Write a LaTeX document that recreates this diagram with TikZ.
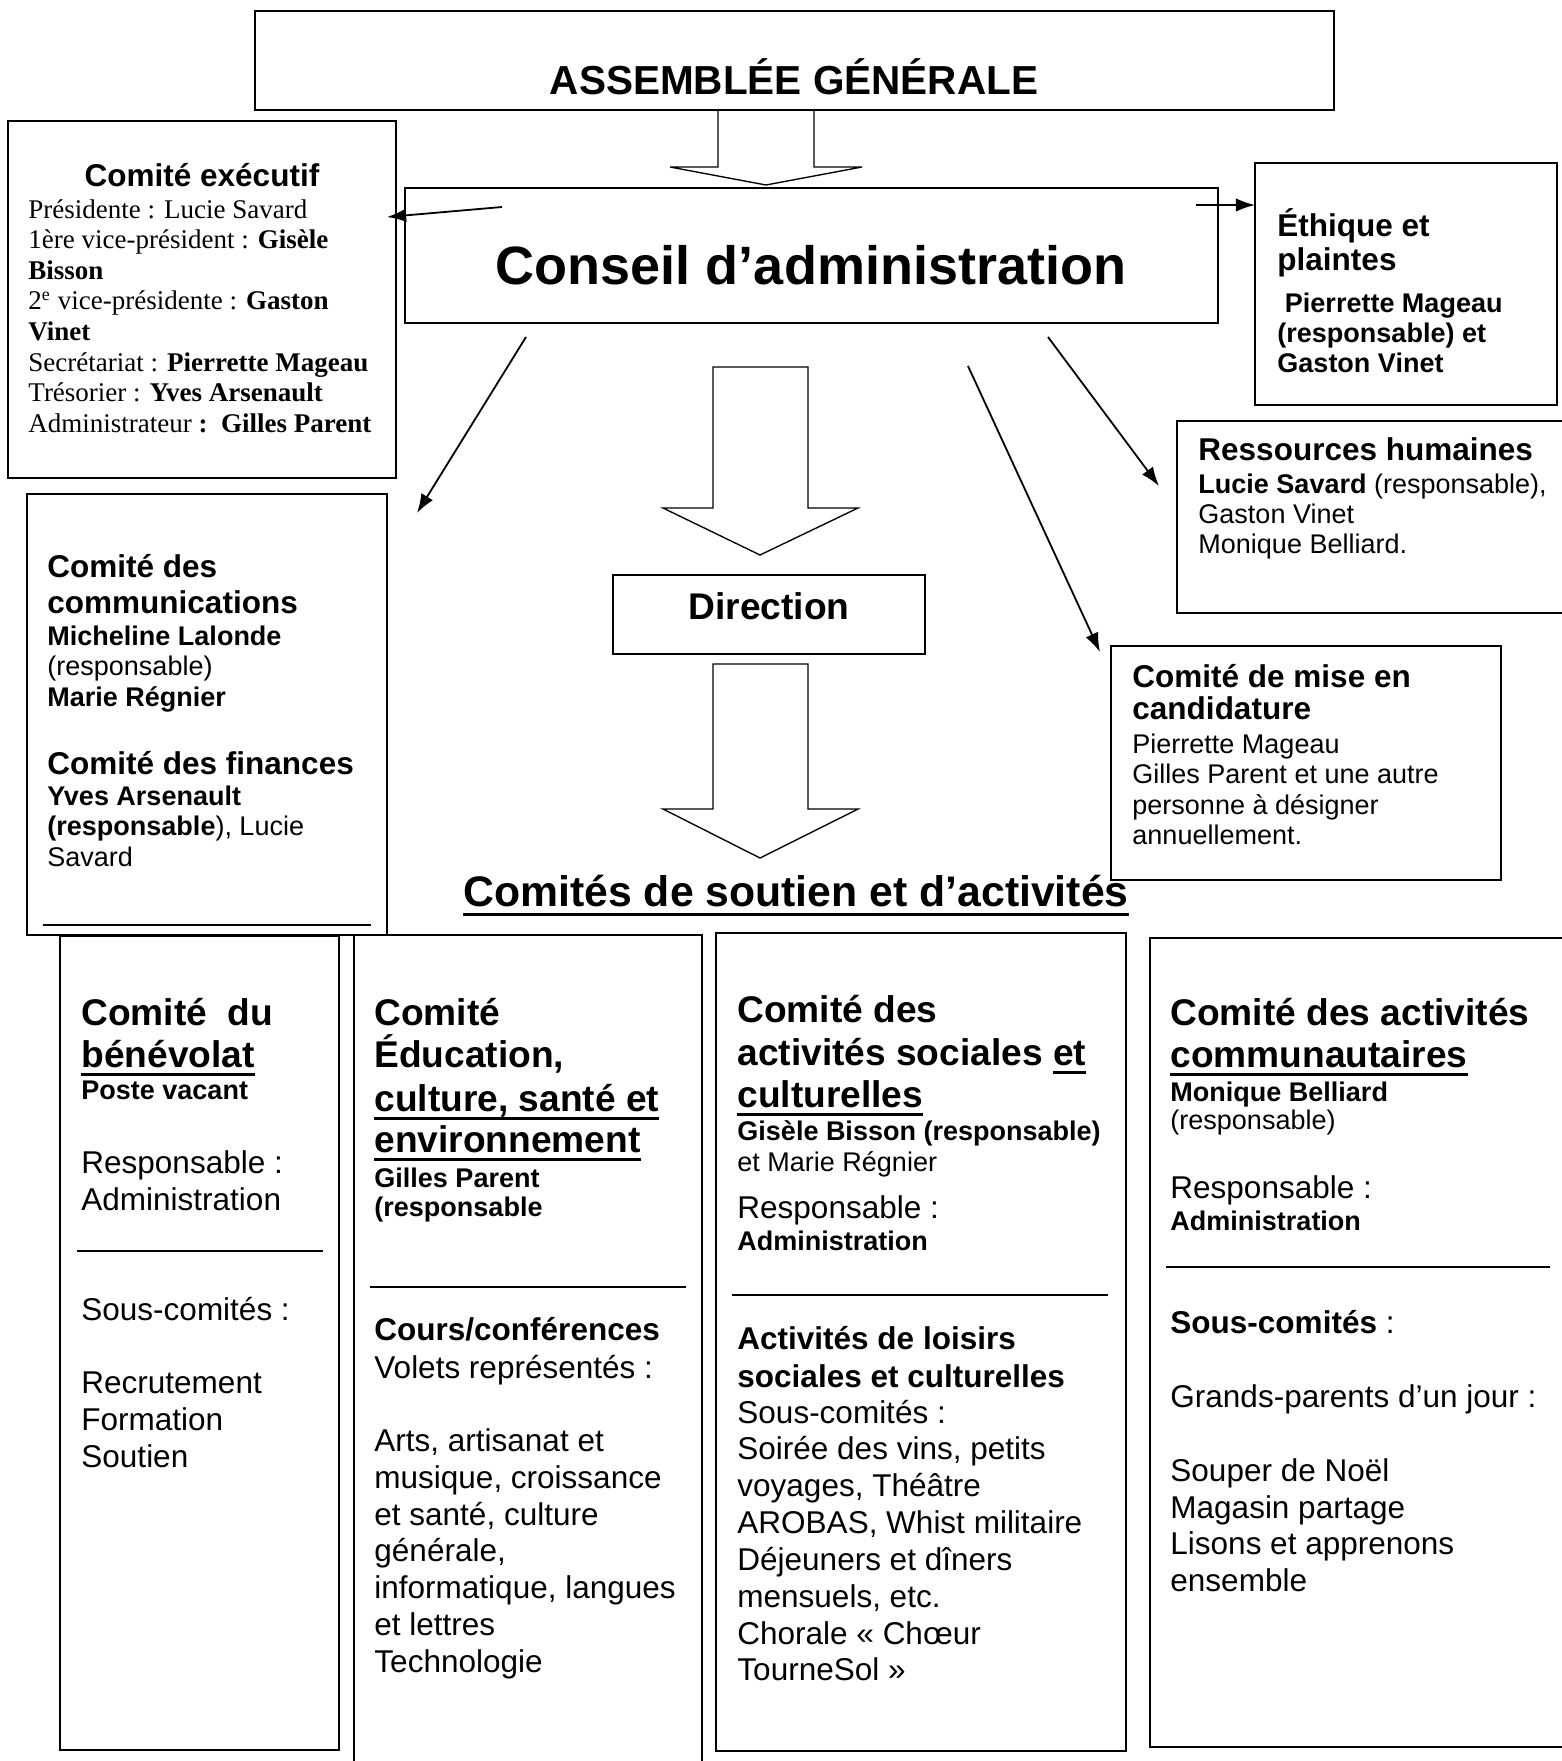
\documentclass[tikz,border=0pt]{standalone}
\usepackage{fontspec}
\setmainfont{Liberation Serif}
\newfontfamily\arialfont{Liberation Sans}
\usetikzlibrary{arrows.meta,fit}

\newsavebox\ulsave
\newcommand{\ulbox}[1]{\sbox\ulsave{#1}\rlap{\rule[-0.245em]{\wd\ulsave}{0.09em}}\usebox\ulsave}

\tikzset{
  cadre/.style={draw, line width=0.9pt, inner sep=0pt},
  fleche/.style={draw, line width=0.6pt, line join=miter},
  trait/.style={line width=0.8pt},
  ligne/.style={anchor=base west, inner sep=0pt},
  times/.style={ligne, font=\fontsize{12}{14}\selectfont},
  petit/.style={ligne, font=\arialfont\fontsize{12}{14}\selectfont},
  petitgras/.style={ligne, font=\arialfont\bfseries\fontsize{12}{14}\selectfont},
  moyen/.style={ligne, font=\arialfont\fontsize{14}{16}\selectfont},
  moyengras/.style={ligne, font=\arialfont\bfseries\fontsize{14}{16}\selectfont},
  grand/.style={ligne, font=\arialfont\bfseries\fontsize{16.5}{19}\selectfont},
  titre/.style={anchor=base, inner sep=0pt}
}

\begin{document}
\begin{tikzpicture}[x=0.4444pt, y=-0.4444pt, >={Latex[length=8.5pt,width=6pt]}]
            \useasboundingbox (0,0) rectangle (1562,1761);

            % assemblee et conseil
            \node[cadre, fit={(255,11) (1334,110)}] (ag) {};
            \node[titre, font=\arialfont\bfseries\fontsize{18}{20}\selectfont] (ag-t) at (794,94) {ASSEMBLÉE GÉNÉRALE};
            \draw[fleche] (718,110) -- (718,167) -- (670,167) -- (766,185) -- (862,167) -- (814,167) -- (814,110) -- cycle ;

            \node[cadre, fit={(405,188) (1218,323)}] (ca) {};
            \node[titre, font=\arialfont\bfseries\fontsize{24}{28}\selectfont] (ca-t) at (811,284) {Conseil d’administration};

            % comite executif
            \node[cadre, fit={(8,121) (396,478)}] (ce) {};
            \node[moyengras, anchor=base] (ce-t) at (202,186) {Comité exécutif};
            \node[times] (ce-1) at (28,218) {Présidente : Lucie Savard};
            \node[times] (ce-2) at (28,248.6) {1ère vice-président : \textbf{Gisèle}};
            \node[times] (ce-3) at (28,279) {\textbf{Bisson}};
            \node[times] (ce-4) at (28,309.8) {2\textsuperscript{e} vice-présidente : \textbf{Gaston}};
            \node[times] (ce-5) at (28,340.4) {\textbf{Vinet}};
            \node[times] (ce-6) at (28,371) {Secrétariat : \textbf{Pierrette Mageau}};
            \node[times] (ce-7) at (28,401.6) {Trésorier : \textbf{Yves Arsenault}};
            \node[times] (ce-8) at (28,432.2) {Administrateur \textbf{:\ \ Gilles Parent}};

            % ethique
            \node[cadre, fit={(1255,163) (1557,405)}] (eth) {};
            \node[moyengras] (eth-1) at (1277,236) {Éthique et};
            \node[moyengras] (eth-2) at (1277,270) {plaintes};
            \node[petitgras] (eth-3) at (1277,312) {\ Pierrette Mageau};
            \node[petitgras] (eth-4) at (1277,342) {(responsable) et};
            \node[petitgras] (eth-5) at (1277,372) {Gaston Vinet};

            % ressources humaines
            \node[cadre, fit={(1177,421) (1572,613)}] (rh) {};
            \node[moyengras] (rh-1) at (1198,460) {Ressources humaines};
            \node[petit] (rh-2) at (1198,493) {\textbf{Lucie Savard} (responsable),};
            \node[petit] (rh-3) at (1198,523) {Gaston Vinet};
            \node[petit] (rh-4) at (1198,553) {Monique Belliard.};

            % mise en candidature
            \node[cadre, fit={(1111,646) (1501,880)}] (cand) {};
            \node[moyengras] (cand-1) at (1132,687) {Comité de mise en};
            \node[moyengras] (cand-2) at (1132,719) {candidature};
            \node[petit] (cand-3) at (1132,753) {Pierrette Mageau};
            \node[petit] (cand-4) at (1132,783.5) {Gilles Parent et une autre};
            \node[petit] (cand-5) at (1132,814) {personne à désigner};
            \node[petit] (cand-6) at (1132,844.5) {annuellement.};

            % communications et finances
            \node[cadre, fit={(27,494) (387,935)}] (comm) {};
            \node[moyengras] (comm-1) at (47,577) {Comité des};
            \node[moyengras] (comm-2) at (47,613) {communications};
            \node[petitgras] (comm-3) at (47,645) {Micheline Lalonde};
            \node[petit] (comm-4) at (47,675) {(responsable)};
            \node[petitgras] (comm-5) at (47,706) {Marie Régnier};
            \node[moyengras] (comm-6) at (47,774) {Comité des finances};
            \node[petitgras] (comm-7) at (47,805) {Yves Arsenault};
            \node[petit] (comm-8) at (47,835) {\textbf{(responsable}), Lucie};
            \node[petit] (comm-9) at (47,866) {Savard};
            \draw[line width=1.3pt] (43,925) -- (371,925) ;

            % fleches du conseil
            \coordinate (ca-ce) at (502,207);
            \coordinate (ce-in) at (387,217);
            \coordinate (ca-eth) at (1196,205);
            \coordinate (eth-in) at (1255,205);
            \coordinate (ca-comm) at (526,337);
            \coordinate (comm-in) at (417,513);
            \coordinate (ca-rh) at (1048,337);
            \coordinate (rh-in) at (1159,486);
            \coordinate (ca-cand) at (968,366);
            \coordinate (cand-in) at (1100,652);
            \draw[->, trait] (ca-ce) -- (ce-in) ;
            \draw[->, trait] (ca-eth) -- (eth-in) ;
            \draw[->, trait] (ca-comm) -- (comm-in) ;
            \draw[->, trait] (ca-rh) -- (rh-in) ;
            \draw[->, trait] (ca-cand) -- (cand-in) ;

            % direction
            \draw[fleche] (713,367) -- (713,508) -- (663,508) -- (760,555) -- (858,508) -- (808,508) -- (808,367) -- cycle ;
            \node[cadre, fit={(613,575) (925,654)}] (dir) {};
            \node[titre, font=\arialfont\bfseries\fontsize{16.5}{19}\selectfont] (dir-t) at (769,619) {Direction};
            \draw[fleche] (713,664) -- (713,809) -- (663,809) -- (760,858) -- (858,809) -- (808,809) -- (808,664) -- cycle ;

            \node[titre, font=\arialfont\bfseries\fontsize{19}{22}\selectfont] (cs-t) at (796,906) {\ulbox{Comités de soutien et d’activités}};

            % benevolat
            \node[cadre, fit={(60,936) (339,1750)}] (b1) {};
            \node[grand] (b1-1) at (81,1025) {Comité\ \ du};
            \node[grand] (b1-2) at (81,1067) {\ulbox{bénévolat}};
            \node[petitgras] (b1-3) at (81,1099) {Poste vacant};
            \node[moyen] (b1-4) at (81,1173) {Responsable :};
            \node[moyen] (b1-5) at (81,1210) {Administration};
            \draw[trait] (77,1251) -- (323,1251) ;
            \node[moyen] (b1-6) at (81,1320) {Sous-comités :};
            \node[moyen] (b1-7) at (81,1393) {Recrutement};
            \node[moyen] (b1-8) at (81,1430) {Formation};
            \node[moyen] (b1-9) at (81,1467) {Soutien};

            % education
            \node[cadre, fit={(354,935) (702,1775)}] (b2) {};
            \node[grand] (b2-1) at (374,1025) {Comité};
            \node[grand] (b2-2) at (374,1067) {Éducation,};
            \node[grand] (b2-3) at (374,1111) {\ulbox{culture, santé et}};
            \node[grand] (b2-4) at (374,1152) {\ulbox{environnement}};
            \node[petitgras] (b2-5) at (374,1187) {Gilles Parent};
            \node[petitgras] (b2-6) at (374,1216) {(responsable};
            \draw[trait] (370,1287) -- (686,1287) ;
            \node[moyengras] (b2-7) at (374,1340) {Cours/conférences};
            \node[moyen] (b2-8) at (374,1378) {Volets représentés :};
            \node[moyen] (b2-9) at (374,1451) {Arts, artisanat et};
            \node[moyen] (b2-10) at (374,1488) {musique, croissance};
            \node[moyen] (b2-11) at (374,1525) {et santé, culture};
            \node[moyen] (b2-12) at (374,1561) {générale,};
            \node[moyen] (b2-13) at (374,1598) {informatique, langues};
            \node[moyen] (b2-14) at (374,1635) {et lettres};
            \node[moyen] (b2-15) at (374,1672) {Technologie};

            % activites sociales
            \node[cadre, fit={(716,933) (1126,1751)}] (b3) {};
            \node[grand] (b3-1) at (737,1022) {Comité des};
            \node[grand] (b3-2) at (737,1065) {activités sociales \ulbox{et}};
            \node[grand] (b3-3) at (737,1107) {\ulbox{culturelles}};
            \node[petitgras] (b3-4) at (737,1140) {Gisèle Bisson (responsable)};
            \node[petit] (b3-5) at (737,1171) {et Marie Régnier};
            \node[moyen] (b3-6) at (737,1218) {Responsable :};
            \node[petitgras] (b3-7) at (737,1250) {Administration};
            \draw[trait] (732,1295) -- (1108,1295) ;
            \node[moyengras] (b3-8) at (737,1349) {Activités de loisirs};
            \node[moyengras] (b3-9) at (737,1387) {sociales et culturelles};
            \node[moyen] (b3-10) at (737,1423) {Sous-comités :};
            \node[moyen] (b3-11) at (737,1459) {Soirée des vins, petits};
            \node[moyen] (b3-12) at (737,1496) {voyages, Théâtre};
            \node[moyen] (b3-13) at (737,1533) {AROBAS, Whist militaire};
            \node[moyen] (b3-14) at (737,1570) {Déjeuners et dîners};
            \node[moyen] (b3-15) at (737,1607) {mensuels, etc.};
            \node[moyen] (b3-16) at (737,1644) {Chorale « Chœur};
            \node[moyen] (b3-17) at (737,1680) {TourneSol »};

            % activites communautaires
            \node[cadre, fit={(1150,938) (1572,1747)}] (b4) {};
            \node[grand] (b4-1) at (1170,1025) {Comité des activités};
            \node[grand] (b4-2) at (1170,1067) {\ulbox{communautaires}};
            \node[petitgras] (b4-3) at (1170,1101) {Monique Belliard};
            \node[petit] (b4-4) at (1170,1129) {(responsable)};
            \node[moyen] (b4-5) at (1170,1198) {Responsable :};
            \node[petitgras] (b4-6) at (1170,1230) {Administration};
            \draw[trait] (1166,1267) -- (1550,1267) ;
            \node[moyen] (b4-7) at (1170,1333) {\textbf{Sous-comités} :};
            \node[moyen] (b4-8) at (1170,1407) {Grands-parents d’un jour :};
            \node[moyen] (b4-9) at (1170,1481) {Souper de Noël};
            \node[moyen] (b4-10) at (1170,1518) {Magasin partage};
            \node[moyen] (b4-11) at (1170,1554) {Lisons et apprenons};
            \node[moyen] (b4-12) at (1170,1591) {ensemble};
\end{tikzpicture}
\end{document}
